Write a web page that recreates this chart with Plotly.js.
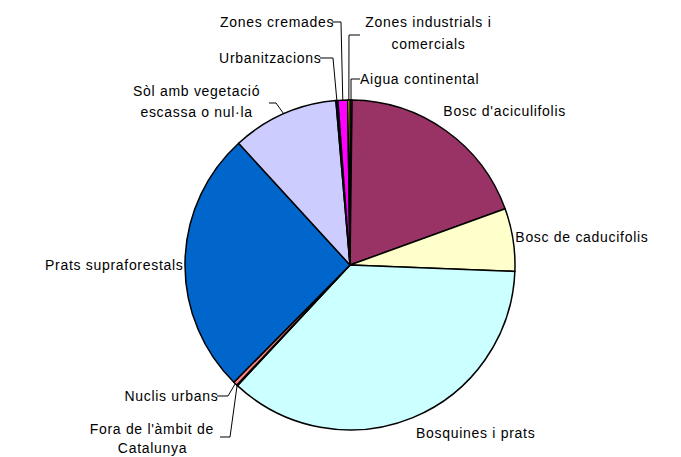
<!DOCTYPE html>
<html>
<head>
<meta charset="utf-8">
<script src="https://cdn.plot.ly/plotly-3.0.1.min.js"></script>
<style>
  html, body { margin: 0; padding: 0; background: #fff; }
  #chart .annotation-text { letter-spacing: 0.7px; }
</style>
</head>
<body>
<div id="chart" style="width:681px;height:457px;"></div>
<script>
// ---- data ----
const categories = [
  "Aigua continental",
  "Bosc d'aciculifolis",
  "Bosc de caducifolis",
  "Bosquines i prats",
  "Fora de l'àmbit de Catalunya",
  "Nuclis urbans",
  "Prats supraforestals",
  "Sòl amb vegetació escassa o nul·la",
  "Urbanitzacions",
  "Zones cremades",
  "Zones industrials i comercials"
];
const shares = [0.20, 19.25, 6.14, 36.30, 0.08, 0.40, 25.75, 10.42, 0.19, 0.95, 0.22];
const colors = ["#9999FF", "#993366", "#FFFFCC", "#CCFFFF", "#660066", "#FF8080",
                "#0066CC", "#CCCCFF", "#000080", "#FF00FF", "#FFFF00"];
// label text lines, per category
const labelLines = [
  ["Aigua continental"],
  ["Bosc d'aciculifolis"],
  ["Bosc de caducifolis"],
  ["Bosquines i prats"],
  ["Fora de l'àmbit de", "Catalunya"],
  ["Nuclis urbans"],
  ["Prats supraforestals"],
  ["Sòl amb vegetació", "escassa o nul·la"],
  ["Urbanitzacions"],
  ["Zones cremades"],
  ["Zones industrials i", "comercials"]
];

// ---- layout (pixels) ----
const W = 681, H = 457;
const CX = 350, CY = 265, R = 165;
// label placement: x, first-line y, anchor, line gap; leader: start, elbow (null = none)
const labelPos = [
  {x: 364, y: 79,  a: "left",   g: 21, leader: [[360, 79], [351, 79]]},
  {x: 448, y: 111, a: "left",   g: 21, leader: null},
  {x: 520, y: 237, a: "left",   g: 21, leader: null},
  {x: 420, y: 433, a: "left",   g: 21, leader: null},
  {x: 152, y: 429, a: "center", g: 19, leader: [[220, 437], [230, 437]]},
  {x: 216, y: 396, a: "right",  g: 21, leader: [[217, 396], [228, 396]]},
  {x: 179, y: 265, a: "right",  g: 21, leader: null},
  {x: 196, y: 91,  a: "center", g: 21, leader: [[269, 103], [276, 103]]},
  {x: 319, y: 58,  a: "right",  g: 21, leader: [[320, 58], [333, 58]]},
  {x: 331, y: 22,  a: "right",  g: 21, leader: [[332, 22], [341, 22]]},
  {x: 428, y: 22,  a: "center", g: 22, leader: [[360, 35], [349, 35]]}
];

const px = x => x / W;
const py = y => 1 - y / H;

// rim point at each slice's mid-angle (clockwise from 12 o'clock), from the data
const total = shares.reduce((s, v) => s + v, 0);
let cum = 0;
const rim = shares.map(v => {
  const mid = (cum + v / 2) / total * 2 * Math.PI;
  cum += v;
  return [CX + R * Math.sin(mid), CY - R * Math.cos(mid)];
});

const annotations = [];
const shapes = [];
labelLines.forEach((lines, i) => {
  const p = labelPos[i];
  lines.forEach((t, k) => {
    annotations.push({
      xref: "paper", yref: "paper",
      x: px(p.x), y: py(p.y + k * p.g),
      xanchor: p.a, yanchor: "middle",
      text: t, showarrow: false,
      font: {family: "Liberation Sans, Arial, sans-serif", size: 14, color: "#000"}
    });
  });
  if (p.leader) {
    const pts = p.leader.concat([rim[i]]);
    const d = pts.map((q, k) => (k ? "L" : "M") + px(q[0]).toFixed(5) + "," + py(q[1]).toFixed(5)).join(" ");
    shapes.push({type: "path", xref: "paper", yref: "paper", path: d,
                 line: {color: "#000", width: 1}});
  }
});

const trace = {
  type: "pie",
  labels: categories,
  values: shares,
  sort: false,
  direction: "clockwise",
  rotation: 0,
  textinfo: "none",
  hoverinfo: "label+percent",
  marker: {colors: colors, line: {color: "#000", width: 1.5}},
  domain: {x: [px(CX - R), px(CX + R)], y: [py(CY + R), py(CY - R)]},
  showlegend: false
};

Plotly.newPlot("chart", [trace], {
  width: W, height: H,
  margin: {l: 0, r: 0, t: 0, b: 0},
  paper_bgcolor: "#fff",
  showlegend: false,
  annotations: annotations,
  shapes: shapes
}, {displayModeBar: false, staticPlot: true});
</script>
</body>
</html>
